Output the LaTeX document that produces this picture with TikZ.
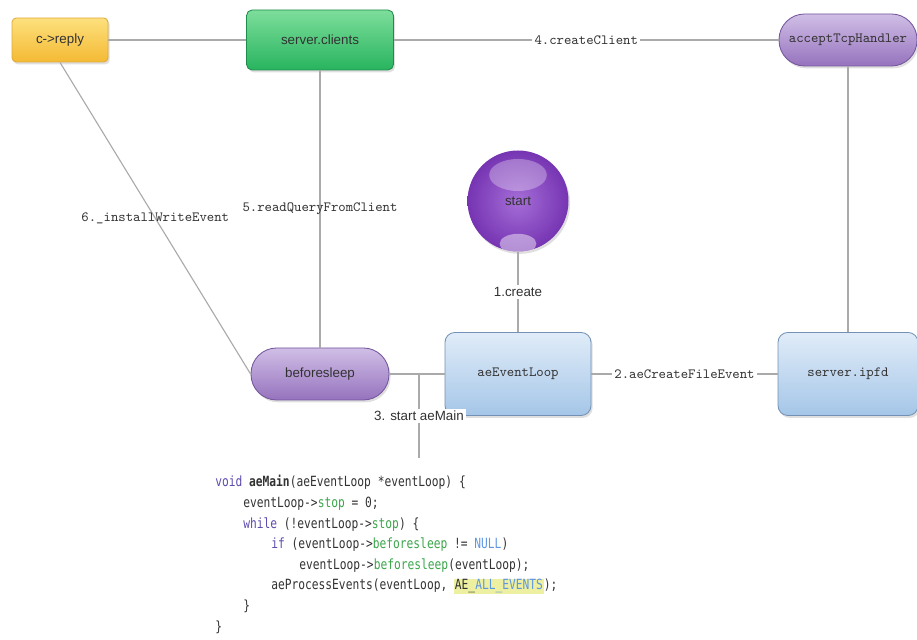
\documentclass[tikz,border=0pt]{standalone}
\usepackage{fontspec}
\usepackage{xcolor}
\usetikzlibrary{shapes, shadows}

\newfontfamily\sansfont{Liberation Sans}
\newfontfamily\codefont[FakeStretch=0.8]{DejaVu Sans Mono}

\definecolor{linegray}{RGB}{170,170,170}
\definecolor{textgray}{RGB}{50,50,50}
\definecolor{replytop}{RGB}{253,224,125}
\definecolor{replybot}{RGB}{244,186,52}
\definecolor{replyline}{RGB}{222,170,60}
\definecolor{clientstop}{RGB}{125,222,155}
\definecolor{clientsbot}{RGB}{40,180,95}
\definecolor{clientsline}{RGB}{30,140,75}
\definecolor{lilactop}{RGB}{208,190,230}
\definecolor{lilacbot}{RGB}{150,115,190}
\definecolor{lilacline}{RGB}{115,85,155}
\definecolor{bluetop}{RGB}{224,236,248}
\definecolor{bluebot}{RGB}{165,198,232}
\definecolor{blueline}{RGB}{115,145,180}
\definecolor{startinner}{RGB}{165,110,215}
\definecolor{startouter}{RGB}{118,52,178}
\definecolor{kwblue}{RGB}{95,75,175}
\definecolor{fieldgreen}{RGB}{60,165,75}
\definecolor{constblue}{RGB}{95,150,225}
\definecolor{hilite}{RGB}{236,240,160}

\begin{document}
\begin{tikzpicture}[
        shade box/.style={draw, line width=0.6pt, inner sep=0pt, text=textgray,
            drop shadow={opacity=0.25, shadow xshift=0.04cm, shadow yshift=-0.06cm}},
        replybox/.style={shade box, rounded corners=3pt, draw=replyline, top color=replytop, bottom color=replybot,
            minimum width=2.4cm, minimum height=1.1cm, font=\sansfont\fontsize{9.5}{11}\selectfont},
        clientsbox/.style={shade box, rounded corners=4pt, draw=clientsline, top color=clientstop, bottom color=clientsbot,
            minimum width=3.675cm, minimum height=1.5cm, font=\sansfont\fontsize{9.5}{11}\selectfont},
        pill/.style={shade box, rounded corners=0.64cm, draw=lilacline, top color=lilactop, bottom color=lilacbot,
            minimum width=3.45cm, minimum height=1.3cm},
        loopbox/.style={shade box, rounded corners=7pt, draw=blueline, top color=bluetop, bottom color=bluebot,
            minimum height=2.075cm, font=\ttfamily\fontsize{10}{12}\selectfont},
        ball/.style={circle, inner color=startinner, outer color=startouter, minimum size=2.525cm, inner sep=0pt,
            text=textgray, font=\sansfont\fontsize{9.5}{11}\selectfont,
            drop shadow={opacity=0.25, shadow xshift=0.04cm, shadow yshift=-0.06cm},
            path picture={
                \fill[white, opacity=0.3] ([yshift=0.65cm]path picture bounding box.center) ellipse (0.72cm and 0.4cm);
                \fill[white, opacity=0.45] ([yshift=-1.07cm]path picture bounding box.center) ellipse (0.46cm and 0.25cm);
            }},
        conn/.style={draw=linegray, line width=0.8pt},
        ttlabel/.style={midway, fill=white, inner sep=1.5pt, text=textgray, font=\ttfamily\fontsize{10}{12}\selectfont},
        ttplain/.style={midway, inner sep=1.5pt, text=textgray, font=\ttfamily\fontsize{10}{12}\selectfont},
        sanslabel/.style={midway, fill=white, inner sep=1.5pt, text=textgray, font=\sansfont\fontsize{9.5}{11}\selectfont},
        codeline/.style={anchor=base west, inner sep=0pt, text=textgray, font=\codefont\fontsize{10}{12}\selectfont}
    ]
        \useasboundingbox (0, 0) rectangle (22.925, 16);

        \node[replybox] (reply) at (1.5, 15) {c->reply};
        \node[clientsbox] (clients) at (8, 15) {server.clients};
        \node[pill, font=\ttfamily\fontsize{10}{12}\selectfont] (accept) at (21.2, 15) {acceptTcpHandler};

        \node[ball] (start) at (12.95, 10.975) {start};
        \node[pill, font=\sansfont\fontsize{9.5}{11}\selectfont] (sleep) at (8, 6.65) {beforesleep};
        \node[loopbox, minimum width=3.65cm] (loop) at (12.95, 6.65) {aeEventLoop};
        \node[loopbox, minimum width=3.5cm] (ipfd) at (21.2, 6.65) {server.ipfd};

        \coordinate (fork) at (10.475, 6.65);
        \coordinate (tail) at (10.475, 4.55);

        \draw[conn] (reply) -- (clients);
        \draw[conn] (clients) -- node[ttlabel] {4.createClient} (accept);
        \draw[conn] (clients) -- node[ttplain] {5.readQueryFromClient} (sleep);
        \draw[conn] (reply.south) -- node[ttplain] {6.\_installWriteEvent} (sleep.west);
        \draw[conn] (start) -- node[sanslabel] {1.create} (loop);
        \draw[conn] (loop) -- node[ttlabel] {2.aeCreateFileEvent} (ipfd);
        \draw[conn] (accept) -- (ipfd);
        \draw[conn] (sleep) -- (fork) -- (loop);
        \draw[conn] (fork) -- node[sanslabel] {3. start aeMain} (tail);

        \node[codeline] (code1) at (5.375, 3.825) {\frenchspacing{\color{kwblue}void} {\bfseries aeMain}(aeEventLoop *eventLoop) \{};
        \node[codeline] (code2) at (6.075, 3.31) {\frenchspacing eventLoop->{\color{fieldgreen}stop} = 0;};
        \node[codeline] (code3) at (6.075, 2.795) {\frenchspacing{\color{kwblue}while} (!eventLoop->{\color{fieldgreen}stop}) \{};
        \node[codeline] (code4) at (6.775, 2.28) {\frenchspacing{\color{kwblue}if} (eventLoop->{\color{fieldgreen}beforesleep} != {\color{constblue}NULL})};
        \node[codeline] (code5) at (7.475, 1.765) {\frenchspacing eventLoop->{\color{fieldgreen}beforesleep}(eventLoop);};
        \node[codeline] (code6) at (6.775, 1.25) {\frenchspacing aeProcessEvents(eventLoop, \setlength{\fboxsep}{0.6pt}\colorbox{hilite}{AE\_{\color{constblue}ALL\_EVENTS}});};
        \node[codeline] (code7) at (6.075, 0.735) {\}};
        \node[codeline] (code8) at (5.375, 0.22) {\}};
    \end{tikzpicture}
\end{document}
